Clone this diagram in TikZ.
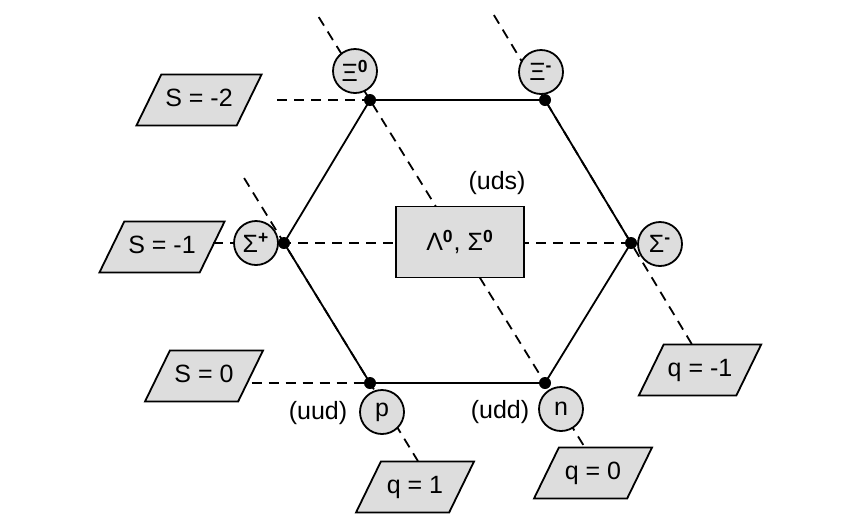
\documentclass[tikz,border=0pt]{standalone}
\usepackage{fontspec}
\setmainfont{Liberation Sans}
\usetikzlibrary{shapes.geometric,calc}

\begin{document}
\begin{tikzpicture}[x=0.5pt,y=-0.5pt,font=\fontsize{12.5}{15}\selectfont]
        % Define colors
        \definecolor{shade}{RGB}{221,221,221}

        % Define styles
        \tikzset{
            particle/.style={circle,draw,fill=shade,line width=0.9pt,minimum size=22pt,inner sep=0pt},
            quantum/.style={trapezium,trapezium left angle=64,trapezium right angle=116,
                trapezium stretches body,draw,fill=shade,line width=0.9pt,
                minimum width=59pt,text height=9pt,text depth=2.5pt,inner xsep=2pt,inner ysep=7pt},
            multiplet/.style={rectangle,draw,fill=shade,line width=0.9pt,minimum width=64pt,minimum height=35.5pt},
            guide/.style={dash pattern=on 5pt off 3.5pt,line width=0.9pt},
            hexline/.style={line width=0.9pt}
        }

        \useasboundingbox (0,0) rectangle (854,526);

        % Corners of the octet
        \coordinate (vxizero) at (370,100);
        \coordinate (vximinus) at (545,100);
        \coordinate (vsigminus) at (631,243);
        \coordinate (vneut) at (545,383);
        \coordinate (vprot) at (370,383);
        \coordinate (vsigplus) at (284,243);

        % Free ends of the guide lines
        \coordinate (stwoend) at (277,100);
        \coordinate (qonetop) at ($(vsigplus)!-0.464!(vprot)$);
        \coordinate (qoneend) at ($(vsigplus)!1.557!(vprot)$);
        \coordinate (qzerotop) at ($(vxizero)!-0.293!(vneut)$);
        \coordinate (qzeroend) at ($(vxizero)!1.226!(vneut)$);
        \coordinate (qminustop) at ($(vximinus)!-0.594!(vsigminus)$);
        \coordinate (qminusend) at ($(vximinus)!1.706!(vsigminus)$);

        % Strangeness and charge labels
        \node[quantum] (stwo) at (199,100) {S = -2};
        \node[quantum] (sone) at (162,247) {S = -1};
        \node[quantum] (szero) at (204,376) {S = 0};
        \node[quantum] (qone) at (415,487) {q = 1};
        \node[quantum] (qzero) at (593,473) {q = 0};
        \node[quantum] (qminus) at (700,370) {q = -1};

        % Dashed guide lines
        \draw[guide] (stwoend) -- (vxizero);
        \draw[guide] (sone.east |- vsigminus) -- (vsigminus);
        \draw[guide] (szero.east |- vprot) -- (vprot);
        \draw[guide] (qonetop) -- (qoneend);
        \draw[guide] (qzerotop) -- (qzeroend);
        \draw[guide] (qminustop) -- (qminusend);

        % Hexagon
        \draw[hexline] (vxizero) -- (vximinus) -- (vsigminus) -- (vneut) -- (vprot) -- (vsigplus) -- cycle;

        % Centre of the octet
        \node[multiplet] (lamsig) at (460,242) {Λ\textsuperscript{\textbf{0}}, Σ\textsuperscript{\textbf{0}}};
        \node (uds) at (497,183) {(uds)};

        % Baryons
        \node[particle] (xizero) at (355,71) {Ξ\textsuperscript{\textbf{0}}};
        \node[particle] (ximinus) at (541,72) {Ξ\textsuperscript{\textbf{-}}};
        \node[particle] (sigplus) at (256,243) {Σ\textsuperscript{\textbf{+}}};
        \node[particle] (sigminus) at (660,244) {Σ\textsuperscript{\textbf{-}}};
        \node[particle] (prot) at (382,412) {p};
        \node[particle] (neut) at (561,409) {n};
        \node (uud) at (318,413) {(uud)};
        \node (udd) at (500,412) {(udd)};

        % Dots on the corners
        \foreach \v in {vxizero,vximinus,vsigminus,vneut,vprot,vsigplus} {
                \fill (\v) circle (3pt);
            }

    \end{tikzpicture}
\end{document}
